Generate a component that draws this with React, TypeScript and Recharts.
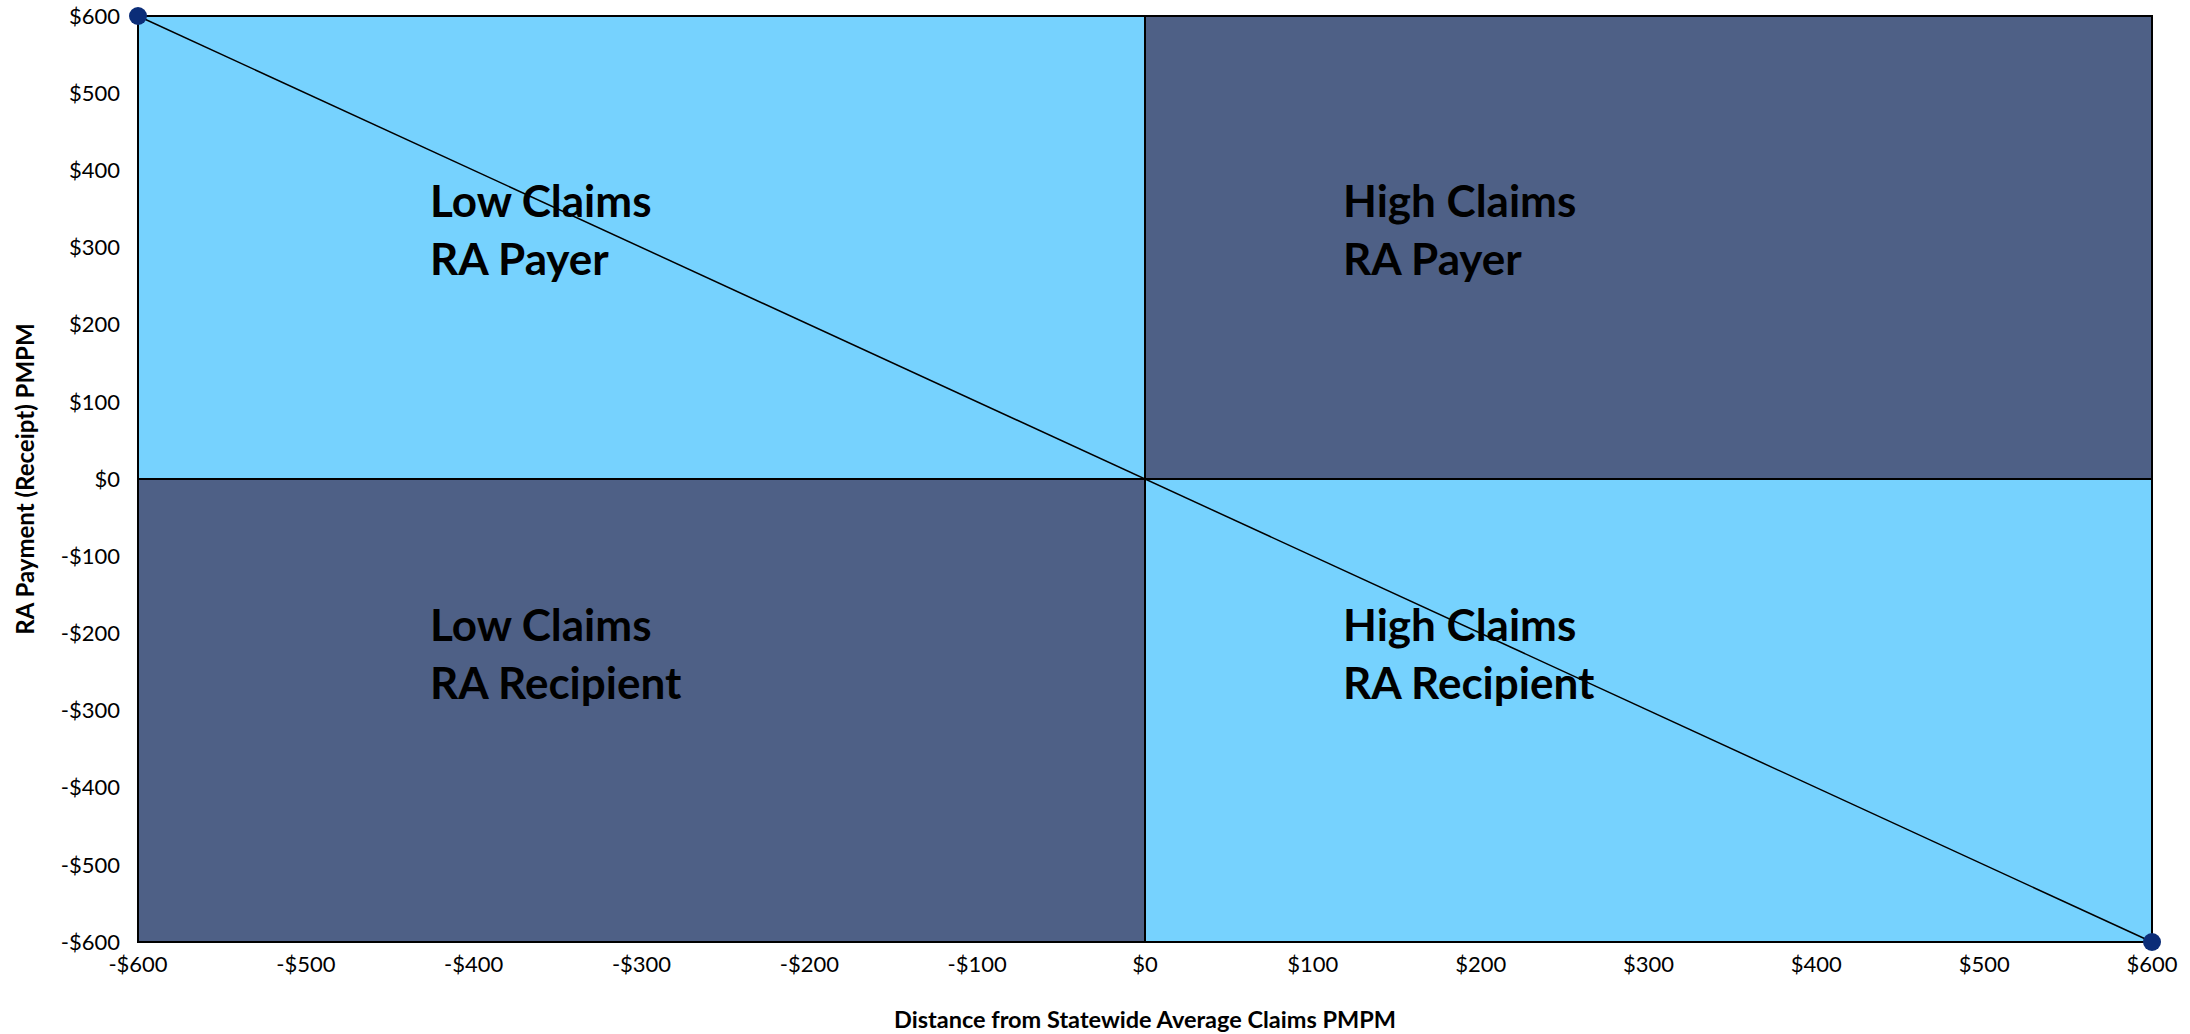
import { ComposedChart, XAxis, YAxis, Line, ReferenceArea, ReferenceDot, Label } from 'recharts';

// axis ticks (shared by both axes)
const ticks = [-600, -500, -400, -300, -200, -100, 0, 100, 200, 300, 400, 500, 600];

// quadrant boxes
const quadX1 = [-600, 0, -600, 0];
const quadX2 = [0, 600, 0, 600];
const quadY1 = [0, 0, -600, -600];
const quadY2 = [600, 600, 0, 0];
const quadShade = ['light', 'dark', 'dark', 'light'];

// quadrant captions
const captionX = [-426, 118, -426, 118];
const captionY = [340, 340, -210, -210];
const captionTop = ['Low Claims', 'High Claims', 'Low Claims', 'High Claims'];
const captionBottom = ['RA Payer', 'RA Payer', 'RA Recipient', 'RA Recipient'];

// the RA payment line
const lineX = [-600, 600];
const lineY = [600, -600];

const lineData = lineX.map((x, i) => ({ x, y: lineY[i] }));

const shadeColor: Record<string, string> = { light: '#76D2FE', dark: '#4E6086' };

const money = (v: number) => (v < 0 ? `-$${-v}` : `$${v}`);

const FONT = 'Lato, "Open Sans", sans-serif';

export default function App() {
  return (
    <div style={{ position: 'absolute', left: 0, top: 0, width: 2190, height: 1034, background: '#fff' }}>
      <ComposedChart width={2190} height={1034} data={lineData} margin={{ top: 16, right: 38, bottom: 0, left: 0 }}>
        <XAxis
          type="number"
          dataKey="x"
          domain={[-600, 600]}
          ticks={ticks}
          tickFormatter={money}
          axisLine={false}
          tickLine={false}
          tickSize={0}
          tickMargin={14}
          height={92}
          tick={{ fill: '#000', fontSize: 22, fontFamily: FONT }}
          interval={0}
        >
          <Label
            value="Distance from Statewide Average Claims PMPM"
            position="center"
            dy={32}
            style={{ fill: '#000', fontSize: 23.5, fontWeight: 700, fontFamily: FONT }}
          />
        </XAxis>
        <YAxis
          type="number"
          domain={[-600, 600]}
          ticks={ticks}
          tickFormatter={money}
          axisLine={false}
          tickLine={false}
          tickSize={0}
          tickMargin={18}
          width={138}
          tick={{ fill: '#000', fontSize: 22, fontFamily: FONT }}
          interval={0}
        >
          <Label
            value="RA Payment (Receipt) PMPM"
            position="center"
            angle={-90}
            dx={-44}
            style={{ fill: '#000', fontSize: 24, fontWeight: 700, fontFamily: FONT, textAnchor: 'middle' }}
          />
        </YAxis>
        {quadX1.map((x1, i) => (
          <ReferenceArea
            key={`q${i}`}
            x1={x1}
            x2={quadX2[i]}
            y1={quadY1[i]}
            y2={quadY2[i]}
            fill={shadeColor[quadShade[i]]}
            fillOpacity={1}
            stroke="#000"
            strokeWidth={2}
            ifOverflow="visible"
          />
        ))}
        {captionX.map((x, i) => (
          <ReferenceDot
            key={`c${i}`}
            x={x}
            y={captionY[i]}
            r={0}
            ifOverflow="visible"
            shape={(p: any) => (
              <text x={p.cx} y={p.cy} fill="#000" fontSize={44} fontWeight={700} fontFamily={FONT}>
                <tspan x={p.cx} y={p.cy}>{captionTop[i]}</tspan>
                <tspan x={p.cx} y={p.cy + 58}>{captionBottom[i]}</tspan>
              </text>
            )}
          />
        ))}
        <Line
          type="linear"
          dataKey="y"
          stroke="#000"
          strokeWidth={1.5}
          dot={{ r: 9, fill: '#0B2D78', stroke: 'none' }}
          activeDot={false}
          isAnimationActive={false}
        />
      </ComposedChart>
    </div>
  );
}
